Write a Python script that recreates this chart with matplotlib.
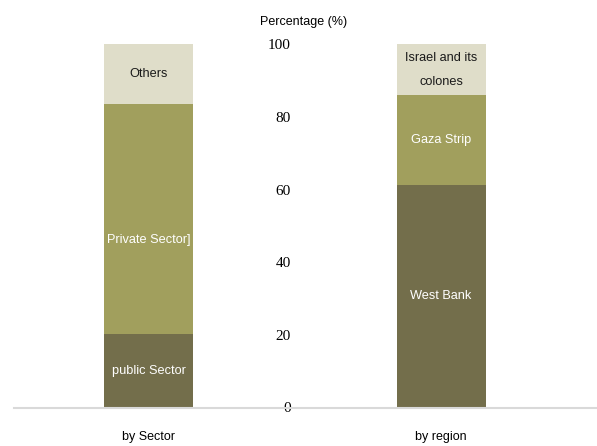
import matplotlib
matplotlib.use("Agg")
import matplotlib.pyplot as plt
import numpy as np

# Distribution of workers (%)
groups = ["by Sector", "by region"]
sector_parts = ["public Sector", "Private Sector]", "Others"]
sector_vals = [20.3, 63.2, 16.5]
region_parts = ["West Bank", "Gaza Strip", "Israel and its\ncolones"]
region_vals = [61.3, 24.7, 14.0]
yticks = [0, 20, 40, 60, 80, 100]

colors = ["#736e4b", "#a19f5d", "#dfddc9"]
text_colors = ["white", "white", "#1a1a1a"]

sans = ["Liberation Sans", "DejaVu Sans"]
serif = ["Liberation Serif", "DejaVu Serif"]

fig = plt.figure(figsize=(5.97, 4.46), dpi=100)
ax = fig.add_axes([14 / 597, 38.5 / 446, 583 / 597, 363.2 / 446])

width = 0.304
for i, (parts, vals) in enumerate([(sector_parts, sector_vals), (region_parts, region_vals)]):
    bottom = 0
    for j, (name, v) in enumerate(zip(parts, vals)):
        ax.bar(i, v, width, bottom=bottom, color=colors[j], edgecolor="none")
        ymid = bottom + v / 2
        if name.startswith("Private"):
            ymid -= 5.8
        ax.text(i, ymid, name, ha="center", va="center", color=text_colors[j],
                fontsize=9.2, family=sans, linespacing=2.35)
        bottom += v

ax.set_xlim(-0.46, 1.533)
ax.set_ylim(0, 100)

for s in ["top", "right", "left"]:
    ax.spines[s].set_visible(False)
ax.spines["bottom"].set_color("#d9d9d9")
ax.spines["bottom"].set_linewidth(1.5)
ax.spines["left"].set_position(("data", 0.487))

ax.set_yticks(yticks)
ax.set_yticklabels([str(t) for t in yticks], family=serif, fontsize=11)
ax.tick_params(axis="y", length=0, pad=0)
ax.set_xticks([0, 1])
ax.set_xticklabels(groups, family=sans, fontsize=9)
ax.tick_params(axis="x", length=0, pad=17)

ax.text(0.53, 104.5, "Percentage (%)", ha="center", va="bottom",
        family=sans, fontsize=9, clip_on=False)

fig.savefig("out.png", dpi=100)
